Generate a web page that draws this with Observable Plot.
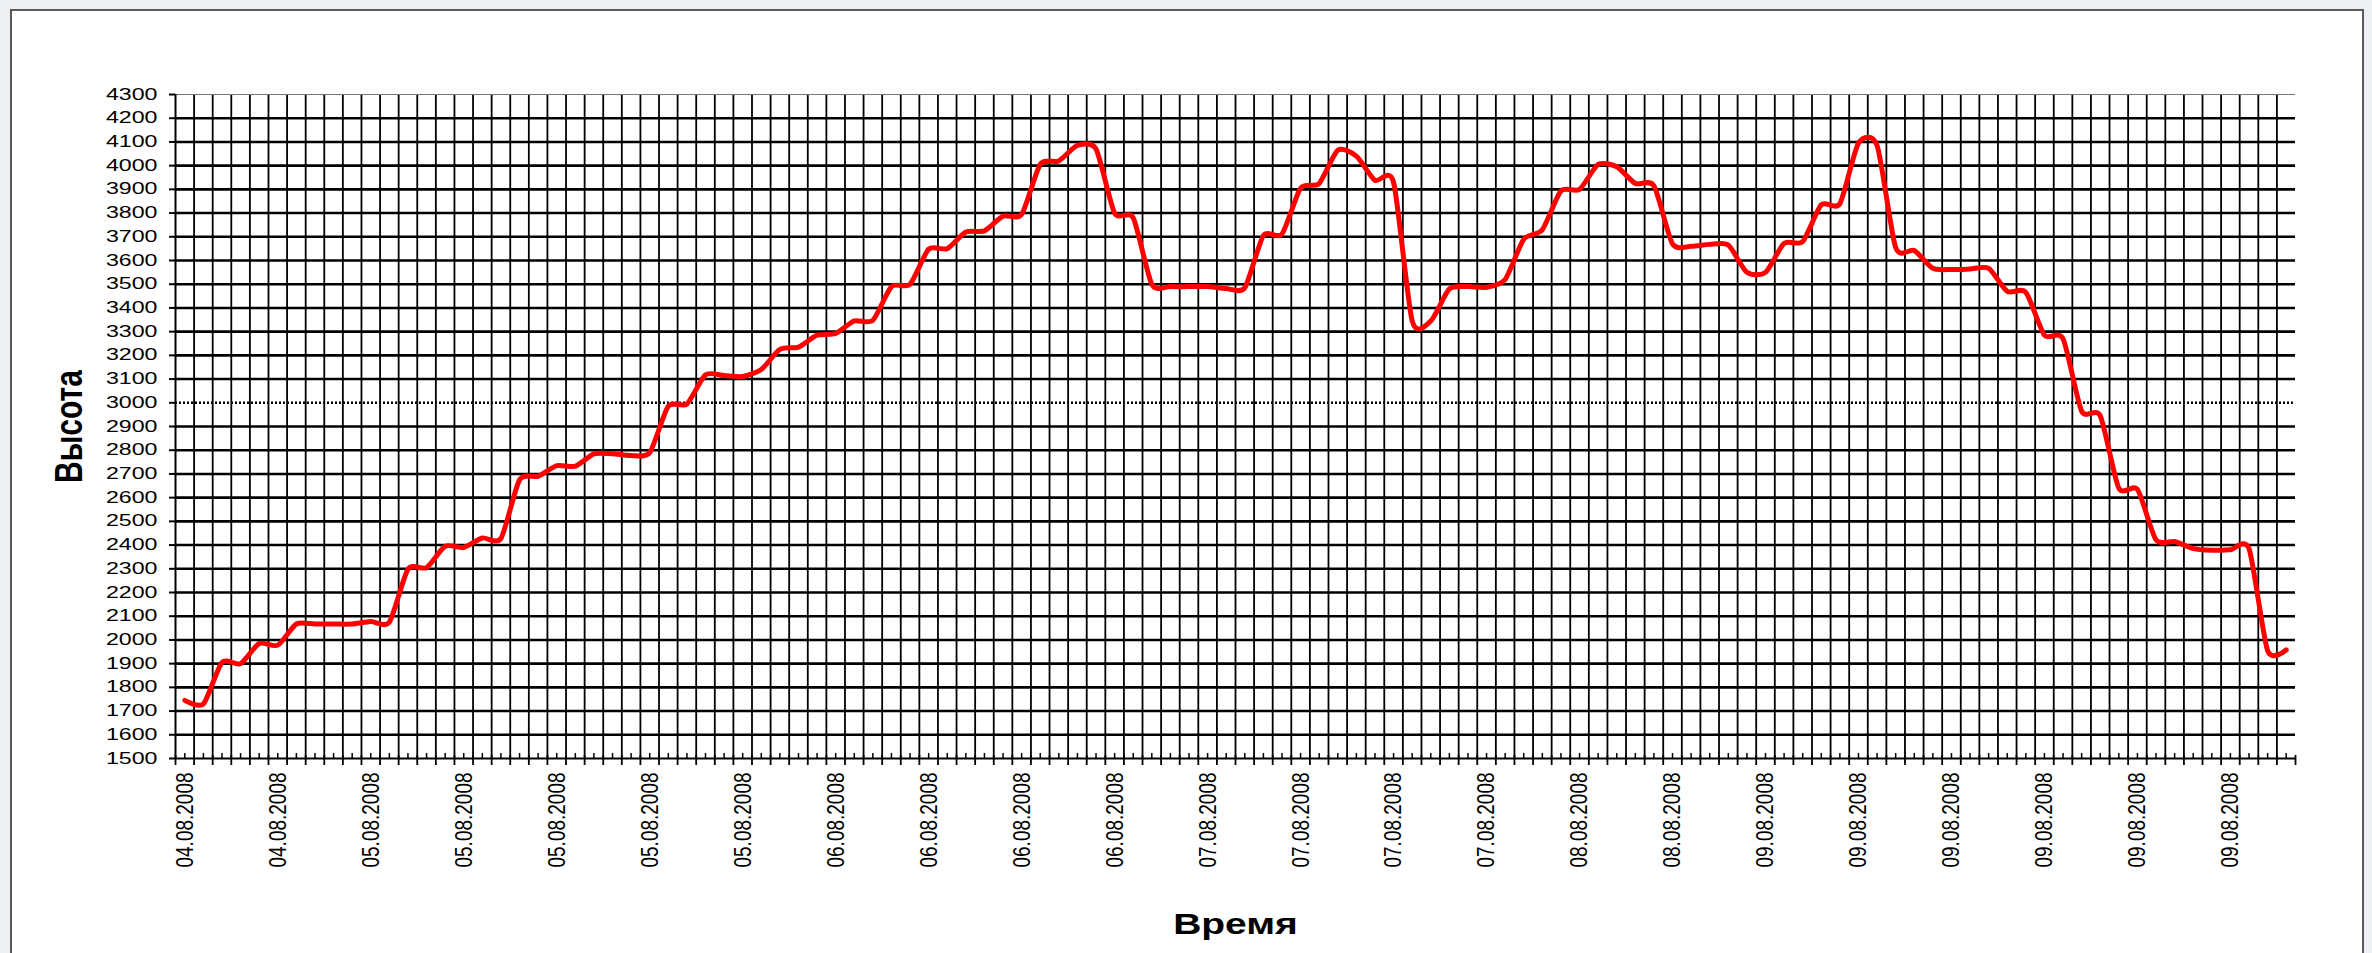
<!DOCTYPE html>
<html>
<head>
<meta charset="utf-8">
<script src="https://cdn.jsdelivr.net/npm/d3@7"></script>
<script src="https://cdn.jsdelivr.net/npm/@observablehq/plot@0.6"></script>
<style>
  html, body { margin: 0; padding: 0; overflow: hidden; background: #eceff3; }
  #frame { position: absolute; left: 10px; top: 9px; width: 2350px; height: 960px; border: 2px solid #5a5a5a; background: #fff; }
  #chart { position: absolute; left: 0; top: 0; }
</style>
</head>
<body>
<div id="frame"></div>
<div id="chart"></div>
<script>
// Altitude values, one per category (category centres)
const heights = [
  1745, 1730, 1905, 1900, 1985, 1978, 2067, 2067, 2067, 2067,
  2078, 2075, 2298, 2305, 2395, 2390, 2430, 2428, 2675, 2690,
  2735, 2733, 2785, 2785, 2778, 2790, 2985, 2995, 3118, 3115,
  3111, 3140, 3225, 3235, 3285, 3292, 3345, 3348, 3490, 3500,
  3648, 3650, 3720, 3725, 3787, 3795, 4005, 4020, 4085, 4070,
  3800, 3780, 3500, 3490, 3490, 3490, 3482, 3485, 3705, 3712,
  3905, 3925, 4065, 4040, 3938, 3930, 3345, 3345, 3480, 3490,
  3487, 3520, 3690, 3730, 3893, 3900, 4005, 3995, 3925, 3915,
  3670, 3660, 3668, 3665, 3550, 3550, 3672, 3680, 3835, 3840,
  4095, 4085, 3655, 3642, 3567, 3562, 3564, 3567, 3470, 3466,
  3285, 3270, 2965, 2945, 2640, 2635, 2422, 2415, 2385, 2378,
  2380, 2385, 1955, 1958
];
// Date labels shown on the category axis (every 5th category)
const dateLabels = [
  "04.08.2008", "04.08.2008", "05.08.2008", "05.08.2008", "05.08.2008",
  "05.08.2008", "05.08.2008", "06.08.2008", "06.08.2008", "06.08.2008",
  "06.08.2008", "07.08.2008", "07.08.2008", "07.08.2008", "07.08.2008",
  "08.08.2008", "08.08.2008", "09.08.2008", "09.08.2008", "09.08.2008",
  "09.08.2008", "09.08.2008", "09.08.2008"
];
const labelCategories = [0, 5, 10, 15, 20, 25, 30, 35, 40, 45, 50, 55, 60, 65, 70, 75, 80, 85, 90, 95, 100, 105, 110];
const yTicks = [1500, 1600, 1700, 1800, 1900, 2000, 2100, 2200, 2300, 2400, 2500, 2600, 2700, 2800,
  2900, 3000, 3100, 3200, 3300, 3400, 3500, 3600, 3700, 3800, 3900, 4000, 4100, 4200, 4300];
const yTitle = "Высота";
const xTitle = "Время";

const nCat = heights.length;
const boundaries = d3.range(0, nCat + 1);
const centers = d3.range(0, nCat).map(i => i + 0.5);
const innerGrid = yTicks.filter(v => v > 1500 && v < 4300 && v !== 3000);

const chart = Plot.plot({
  width: 2372,
  height: 953,
  marginLeft: 175,
  marginRight: 77,
  marginTop: 94,
  marginBottom: 195,
  x: {domain: [0, nCat], axis: null},
  y: {domain: [1500, 4300], axis: null},
  style: {background: "transparent", fontFamily: "'Liberation Sans', Arial, sans-serif", color: "#000", overflow: "visible"},
  marks: [
    // vertical grid
    Plot.ruleX(boundaries.slice(1, nCat), {stroke: "#000", strokeWidth: 1.8}),
    // horizontal grid
    Plot.ruleY(innerGrid, {stroke: "#000", strokeWidth: 2.6}),
    Plot.ruleY([3000], {stroke: "#000", strokeWidth: 2.4, strokeDasharray: "2,2"}),
    Plot.ruleY([4300], {stroke: "#777", strokeWidth: 1.2}),
    // axes lines
    Plot.ruleX([0], {stroke: "#000", strokeWidth: 2}),
    Plot.ruleY([1500], {stroke: "#000", strokeWidth: 2}),
    // y ticks
    Plot.ruleY(yTicks, {x1: 0, x2: 0, insetLeft: -6, stroke: "#000", strokeWidth: 2}),
    // x major ticks (crossing) and minor ticks
    Plot.ruleX(boundaries, {y1: 1500, y2: 1500, insetTop: -3, insetBottom: -7, stroke: "#000", strokeWidth: 1.8}),
    Plot.ruleX(centers, {y1: 1500, y2: 1500, insetTop: -5, insetBottom: 0, stroke: "#000", strokeWidth: 1.5}),
    // y tick labels
    Plot.text(yTicks, {frameAnchor: "left", y: d => d, text: d => String(d), textAnchor: "end", dx: -18, fontSize: 16, fill: "#000"}),
    // x tick labels
    Plot.text(labelCategories, {x: d => d + 0.5, frameAnchor: "bottom", text: (d, i) => dateLabels[i], rotate: -90, textAnchor: "end", lineAnchor: "middle", dy: 14, fontSize: 19, fill: "#000"}),
    // titles
    Plot.text([yTitle], {frameAnchor: "left", rotate: -90, textAnchor: "middle", lineAnchor: "middle", dx: -106, fontSize: 30, fontWeight: "bold", fill: "#000"}),
    Plot.text([xTitle], {frameAnchor: "bottom", textAnchor: "middle", lineAnchor: "middle", dy: 166, fontSize: 30, fontWeight: "bold", fill: "#000"}),
    // data line
    Plot.line(heights, {x: (d, i) => i + 0.5, y: d => d, stroke: "#ff0000", strokeWidth: 5, curve: "cardinal", tension: 0.3, strokeLinejoin: "round", strokeLinecap: "round"})
  ]
});

// The source picture is stretched horizontally: widen glyphs accordingly
function stretchH(node, f) {
  const el = d3.select(node);
  const tr = el.attr("transform");
  if (tr) {
    el.attr("transform", tr + (tr.includes("rotate") ? ` scale(1,${f})` : ` scale(${f},1)`));
  } else {
    const x = +el.attr("x") || 0;
    el.attr("transform", `translate(${x},0) scale(${f},1) translate(${-x},0)`);
  }
}
d3.select(chart).selectAll("text").each(function() {
  const t = this.textContent;
  if (/^\d{4}$/.test(t)) stretchH(this, 1.45);
  else if (/^\d\d\.\d\d\.\d{4}$/.test(t)) stretchH(this, 1.3);
  else if (t === yTitle) stretchH(this, 1.3);
  else if (t === xTitle) stretchH(this, 1.3);
});

document.getElementById("chart").appendChild(chart);
</script>
</body>
</html>
